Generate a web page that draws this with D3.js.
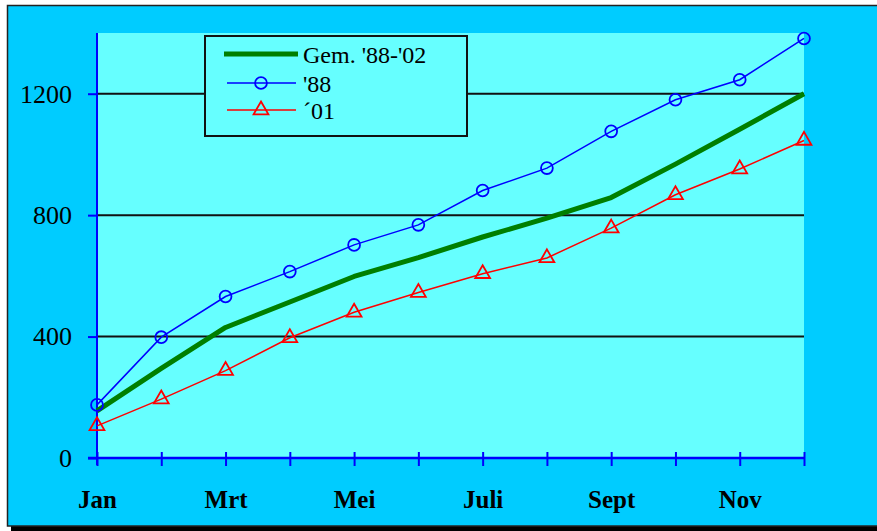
<!DOCTYPE html>
<html>
<head>
<meta charset="utf-8">
<script src="https://cdn.jsdelivr.net/npm/d3@7"></script>
<style>
  html, body { margin: 0; padding: 0; background: #ffffff; }
  svg { display: block; }
</style>
</head>
<body>
<svg id="chart" width="877" height="531"></svg>
<script>
// Monthly cumulative totals
const months = ["Jan", "Feb", "Mrt", "Apr", "Mei", "Jun", "Juli", "Aug", "Sept", "Okt", "Nov", "Dec"];
const monthLabels = ["Jan", "Mrt", "Mei", "Juli", "Sept", "Nov"];
const avg8802 = [155, 295, 430, 514, 598, 660, 728, 790, 858, 968, 1083, 1200];
const y88 = [175, 398, 532, 614, 702, 768, 881, 955, 1076, 1180, 1246, 1382];
const y01 = [106, 194, 288, 396, 480, 545, 607, 659, 757, 867, 952, 1046];
const yTicks = [0, 400, 800, 1200];
const seriesNames = ["Gem. '88-'02", "'88", "´01"];

const svg = d3.select("#chart");

// Frame with drop shadow
svg.append("rect").attr("x", 11).attr("y", 9).attr("width", 880).attr("height", 522).attr("fill", "#000");
svg.append("rect").attr("x", 7.5).attr("y", 5.5).attr("width", 880).attr("height", 520.5)
  .attr("fill", "#00ccff").attr("stroke", "#222").attr("stroke-width", 1.5);

const plot = { left: 97, right: 804, top: 33, bottom: 458 };

const x = d3.scalePoint().domain(months).range([plot.left, plot.right]);
const y = d3.scaleLinear().domain([0, 1400]).range([plot.bottom, plot.top]);

// Plot area
svg.append("rect")
  .attr("x", plot.left).attr("y", y(1400))
  .attr("width", plot.right - plot.left).attr("height", y(0) - y(1400))
  .attr("fill", "#66ffff");

// Gridlines
svg.append("g").selectAll("line").data(yTicks.filter(d => d > 0)).join("line")
  .attr("x1", plot.left).attr("x2", plot.right)
  .attr("y1", d => y(d)).attr("y2", d => y(d))
  .attr("stroke", "#111").attr("stroke-width", 2);

const serif = "'Liberation Serif', 'DejaVu Serif', serif";

// Y axis
const yAxis = svg.append("g").attr("transform", `translate(${plot.left},0)`)
  .call(d3.axisLeft(y).tickValues(yTicks).tickSize(9).tickPadding(16).tickFormat(d3.format("d")));
yAxis.select(".domain").attr("stroke", "#0000ff").attr("stroke-width", 2)
  .attr("d", `M0,${y(1400)}V${y(0) + 7}`);
yAxis.selectAll(".tick line").attr("stroke", "#0000ff").attr("stroke-width", 2).attr("x2", -9).attr("x1", 0);
yAxis.selectAll(".tick text").attr("fill", "#000").attr("font-family", serif).attr("font-size", 26);

// X axis
const xAxis = svg.append("g").attr("transform", `translate(0,${plot.bottom})`)
  .call(d3.axisBottom(x).tickSize(7).tickPadding(0).tickFormat(d => monthLabels.includes(d) ? d : ""));
xAxis.select(".domain").attr("stroke", "#0000ff").attr("stroke-width", 2.5)
  .attr("d", `M${plot.left - 9},0H${plot.right}`);
xAxis.selectAll(".tick line").attr("stroke", "#0000ff").attr("stroke-width", 2).attr("y1", -6).attr("y2", 8);
xAxis.selectAll(".tick text").attr("fill", "#000").attr("font-family", serif)
  .attr("font-weight", "bold").attr("font-size", 25).attr("dy", 0).attr("y", 50);

// Lines
const line = d3.line().x((d, i) => x(months[i])).y(d => y(d));

svg.append("path").datum(avg8802).attr("d", line)
  .attr("fill", "none").attr("stroke", "#007f00").attr("stroke-width", 5).attr("stroke-linejoin", "round");

svg.append("path").datum(y88).attr("d", line)
  .attr("fill", "none").attr("stroke", "#0000ff").attr("stroke-width", 1.5);

svg.append("path").datum(y01).attr("d", line)
  .attr("fill", "none").attr("stroke", "#ff0000").attr("stroke-width", 1.5);

// Markers
const circle = d3.symbol().type(d3.symbolCircle).size(110);
const tri = d3.symbol().type(d3.symbolTriangle).size(95);

svg.append("g").selectAll("path").data(y88).join("path")
  .attr("transform", (d, i) => `translate(${x(months[i])},${y(d)})`)
  .attr("d", circle).attr("fill", "none").attr("stroke", "#0000ff").attr("stroke-width", 1.8);

svg.append("g").selectAll("path").data(y01).join("path")
  .attr("transform", (d, i) => `translate(${x(months[i])},${y(d)})`)
  .attr("d", tri).attr("fill", "none").attr("stroke", "#ff0000").attr("stroke-width", 1.8);

// Legend
const lg = svg.append("g");
lg.append("rect").attr("x", 205).attr("y", 36).attr("width", 262).attr("height", 100)
  .attr("fill", "#66ffff").attr("stroke", "#111").attr("stroke-width", 2);

const rows = [
  { name: seriesNames[0], color: "#007f00", w: 5, y: 54, x1: 224, x2: 298, mark: null },
  { name: seriesNames[1], color: "#0000ff", w: 1.5, y: 83, x1: 227, x2: 296, mark: circle },
  { name: seriesNames[2], color: "#ff0000", w: 1.5, y: 110, x1: 227, x2: 296, mark: tri }
];
rows.forEach(r => {
  lg.append("line").attr("x1", r.x1).attr("x2", r.x2).attr("y1", r.y).attr("y2", r.y)
    .attr("stroke", r.color).attr("stroke-width", r.w);
  if (r.mark) {
    lg.append("path").attr("transform", `translate(261,${r.y})`).attr("d", r.mark)
      .attr("fill", "none").attr("stroke", r.color).attr("stroke-width", 1.8);
  }
  lg.append("text").attr("x", 303).attr("y", r.y + 9).text(r.name)
    .attr("font-family", serif).attr("font-size", 24).attr("fill", "#000");
});
</script>
</body>
</html>
